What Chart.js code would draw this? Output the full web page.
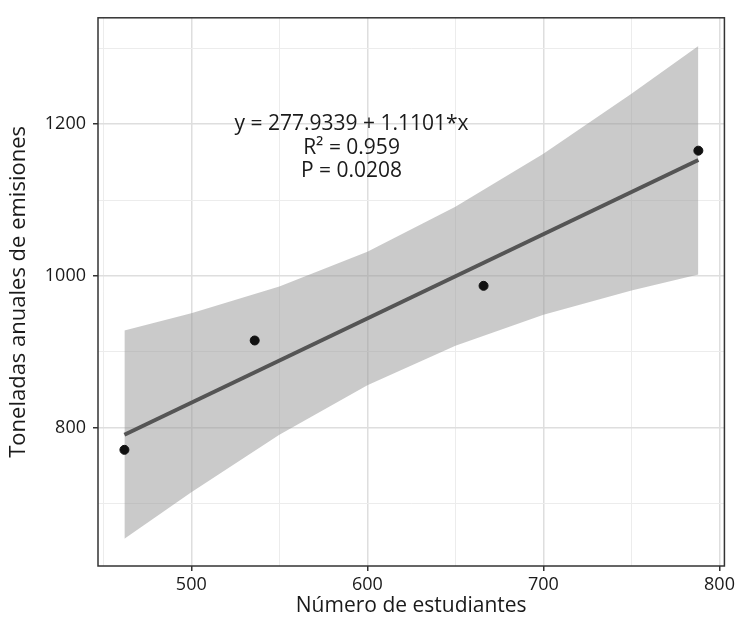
<!DOCTYPE html>
<html>
<head>
<meta charset="utf-8">
<script src="https://cdn.jsdelivr.net/npm/chart.js@4"></script>
<style>
  html, body { margin: 0; padding: 0; background: #fff; }
</style>
</head>
<body>
<canvas id="myChart" width="738" height="621"></canvas>
<script>
// datos
const estudiantes = [462, 536, 666, 788];
const emisiones = [771, 915, 987, 1165];
const ajusteX = [462, 788];
const ajusteY = [790.8, 1152.7];
const bandaX = [462, 500, 550, 600, 650, 700, 750, 788];
const bandaAlta = [928, 951, 986, 1032, 1091, 1161, 1240, 1303];
const bandaBaja = [654, 715, 791, 856, 908, 949, 981, 1002];
const xTicks = [450, 500, 550, 600, 650, 700, 750, 800];
const yTicks = [700, 800, 900, 1000, 1100, 1200, 1300];
const etiquetas = ["y = 277.9339 + 1.1101*x", "R\u00b2 = 0.959", "P = 0.0208"];

const toPoints = (xs, ys) => xs.map((v, i) => ({ x: v, y: ys[i] }));

const fontFam = '"Open Sans", sans-serif';
const textColor = "#1a1a1a";

const extras = {
  id: "extras",
  afterDraw(chart) {
    const { ctx, chartArea: a, scales } = chart;
    ctx.save();
    ctx.fillStyle = textColor;
    ctx.font = "21px " + fontFam;
    ctx.textAlign = "center";
    ctx.textBaseline = "middle";
    const tx = scales.x.getPixelForValue(591);
    const ty = scales.y.getPixelForValue(1200);
    etiquetas.forEach((t, i) => ctx.fillText(t, tx, ty + i * 23.5));
    ctx.strokeStyle = "#333";
    ctx.lineWidth = 1.5;
    ctx.strokeRect(a.left, a.top, a.right - a.left, a.bottom - a.top);
    ctx.restore();
  },
};

const isMajorX = (v) => v % 100 === 0;
const isMajorY = (v) => v % 200 === 0;

const ctx = document.getElementById("myChart");
const myChart = new Chart(ctx, {
  type: "scatter",
  data: {
    datasets: [
      {
        label: "puntos",
        data: toPoints(estudiantes, emisiones),
        backgroundColor: "#111",
        borderColor: "#111",
        pointRadius: 4.5,
        order: 0,
      },
      {
        label: "ajuste",
        data: toPoints(ajusteX, ajusteY),
        showLine: true,
        borderColor: "#555",
        borderWidth: 4,
        pointRadius: 0,
        order: 1,
      },
      {
        label: "alta",
        data: toPoints(bandaX, bandaAlta),
        showLine: true,
        borderWidth: 0,
        borderColor: "rgba(0,0,0,0)",
        pointRadius: 0,
        fill: "+1",
        backgroundColor: "rgba(150,150,150,0.5)",
        order: 2,
      },
      {
        label: "baja",
        data: toPoints(bandaX, bandaBaja),
        showLine: true,
        borderWidth: 0,
        borderColor: "rgba(0,0,0,0)",
        pointRadius: 0,
        order: 3,
      },
    ],
  },
  options: {
    responsive: false,
    animation: false,
    layout: { padding: { top: 10, right: 9, left: 0, bottom: 0 } },
    plugins: { legend: { display: false }, tooltip: { enabled: false } },
    scales: {
      x: {
        type: "linear",
        min: 447,
        max: 802.8,
        afterBuildTicks: (s) => { s.ticks = xTicks.map((v) => ({ value: v })); },
        afterFit: (s) => { s.height = 55; },
        border: { display: false },
        grid: {
          color: (c) => (isMajorX(c.tick.value) ? "#dedede" : "#ececec"),
          lineWidth: (c) => (isMajorX(c.tick.value) ? 1.5 : 1),
          tickColor: (c) => (isMajorX(c.tick.value) ? "#333" : "rgba(0,0,0,0)"),
          tickLength: 5,
        },
        ticks: {
          autoSkip: false,
          maxRotation: 0,
          padding: 3,
          color: textColor,
          font: { family: fontFam, size: 18 },
          callback: (v) => (isMajorX(v) ? v : ""),
        },
        title: {
          display: true,
          text: "Número de estudiantes",
          color: textColor,
          font: { family: fontFam, size: 21 },
          padding: { top: 4, bottom: 2 },
        },
      },
      y: {
        type: "linear",
        min: 618,
        max: 1340,
        afterBuildTicks: (s) => { s.ticks = yTicks.map((v) => ({ value: v })); },
        afterFit: (s) => { s.width = 98; },
        border: { display: false },
        grid: {
          color: (c) => (isMajorY(c.tick.value) ? "#dedede" : "#ececec"),
          lineWidth: (c) => (isMajorY(c.tick.value) ? 1.5 : 1),
          tickColor: (c) => (isMajorY(c.tick.value) ? "#333" : "rgba(0,0,0,0)"),
          tickLength: 5,
        },
        ticks: {
          autoSkip: false,
          padding: 7,
          color: textColor,
          font: { family: fontFam, size: 18 },
          callback: (v) => (isMajorY(v) ? v : ""),
        },
        title: {
          display: true,
          text: "Toneladas anuales de emisiones",
          color: textColor,
          font: { family: fontFam, size: 22 },
          padding: { top: 6, bottom: 4 },
        },
      },
    },
  },
  plugins: [extras],
});
</script>
</body>
</html>
